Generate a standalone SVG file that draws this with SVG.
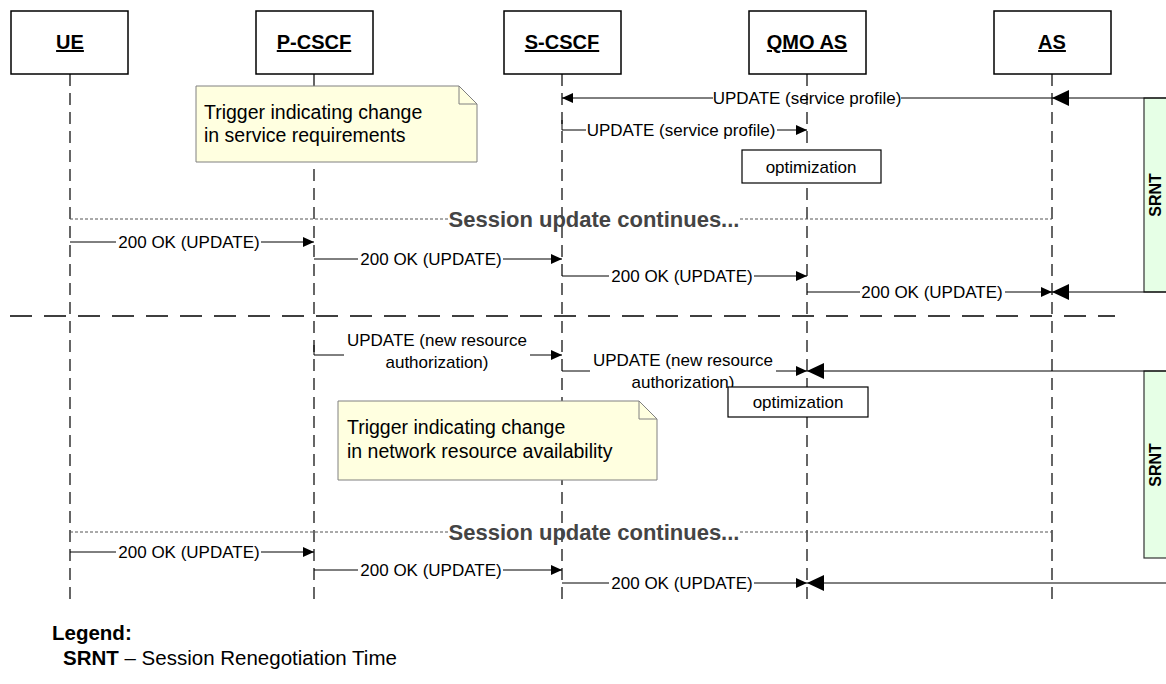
<svg xmlns="http://www.w3.org/2000/svg" width="1166" height="684" viewBox="0 0 1166 684">
<defs>
<style>
.hdr{fill:#fff;stroke:#000;stroke-width:1.5}
.htxt{font-family:"Liberation Sans",Arial,sans-serif;font-size:20px;font-weight:bold;text-anchor:middle;text-decoration:underline}
.life{stroke:#000;stroke-width:1.2;stroke-dasharray:12,7;fill:none}
.msg{stroke:#000;stroke-width:1;fill:none}
.lbl{font-family:"Liberation Sans",Arial,sans-serif;font-size:17px;text-anchor:middle;fill:#000}
.note{fill:#ffffe0;stroke:#808080;stroke-width:1}
.ntxt{font-family:"Liberation Sans",Arial,sans-serif;font-size:19.5px;fill:#000}
.opt{fill:#fff;stroke:#000;stroke-width:1.2}
.sess{font-family:"Liberation Sans",Arial,sans-serif;font-size:22px;font-weight:bold;fill:#444;text-anchor:middle}
.dot{stroke:#555;stroke-width:1;stroke-dasharray:3,2;fill:none}
.srnt{fill:#e6ffe6;stroke:#333;stroke-width:1.2}
.stxt{font-family:"Liberation Sans",Arial,sans-serif;font-size:16px;font-weight:bold;text-anchor:middle}
.leg{font-family:"Liberation Sans",Arial,sans-serif;font-size:20.5px}
</style>
<marker id="ah" markerWidth="12" markerHeight="10" refX="11" refY="5" orient="auto" markerUnits="userSpaceOnUse"><path d="M0,0 L11,5 L0,10 Z" fill="#000"/></marker>
<marker id="ahb" markerWidth="18" markerHeight="16" refX="17" refY="8" orient="auto" markerUnits="userSpaceOnUse"><path d="M0,0 L17,8 L0,16 Z" fill="#000"/></marker>
</defs>
<rect width="1166" height="684" fill="#fff"/>

<g id="lifelines">
<line class="life" x1="70" y1="74" x2="70" y2="600"/>
<line class="life" x1="314" y1="74" x2="314" y2="600"/>
<line class="life" x1="562" y1="74" x2="562" y2="600"/>
<line class="life" x1="807" y1="74" x2="807" y2="600"/>
<line class="life" x1="1052" y1="74" x2="1052" y2="600"/>
</g>

<g id="UE"><rect class="hdr" x="11" y="11" width="117" height="63"/><text class="htxt" x="70" y="49">UE</text></g>
<g id="P-CSCF"><rect class="hdr" x="256" y="11" width="117" height="63"/><text class="htxt" x="314" y="49">P-CSCF</text></g>
<g id="S-CSCF"><rect class="hdr" x="504" y="11" width="117" height="63"/><text class="htxt" x="562" y="49">S-CSCF</text></g>
<g id="QMO-AS"><rect class="hdr" x="749" y="11" width="117" height="63"/><text class="htxt" x="807" y="49">QMO AS</text></g>
<g id="AS"><rect class="hdr" x="994" y="11" width="117" height="63"/><text class="htxt" x="1052" y="49">AS</text></g>

<g id="srnt1"><rect class="srnt" x="1144" y="98" width="30" height="194"/><text class="stxt" transform="translate(1161,195) rotate(-90)">SRNT</text></g>
<g id="srnt2"><rect class="srnt" x="1144" y="371" width="30" height="187"/><text class="stxt" transform="translate(1161,465) rotate(-90)">SRNT</text></g>

<g id="connectors">
<line class="msg" x1="1166" y1="98" x2="1052" y2="98" marker-end="url(#ahb)"/>
<line class="msg" x1="1052" y1="98" x2="901" y2="98"/>
<line class="msg" x1="713" y1="98" x2="562" y2="98" marker-end="url(#ah)"/>
<text class="lbl" x="807" y="104">UPDATE (service profile)</text>
<line class="msg" x1="562" y1="120" x2="562" y2="130"/>
<line class="msg" x1="562" y1="130" x2="586" y2="130"/>
<line class="msg" x1="777" y1="130" x2="807" y2="130" marker-end="url(#ah)"/>
<text class="lbl" x="681" y="136">UPDATE (service profile)</text>

<line class="dot" x1="70" y1="219" x2="448" y2="219"/>
<line class="dot" x1="740" y1="219" x2="1052" y2="219"/>
<text class="sess" x="594" y="227">Session update continues...</text>

<line class="msg" x1="70" y1="242" x2="116" y2="242"/>
<line class="msg" x1="261" y1="242" x2="314" y2="242" marker-end="url(#ah)"/>
<text class="lbl" x="189" y="248">200 OK (UPDATE)</text>
<line class="msg" x1="314" y1="259" x2="358" y2="259"/>
<line class="msg" x1="503" y1="259" x2="562" y2="259" marker-end="url(#ah)"/>
<text class="lbl" x="431" y="265">200 OK (UPDATE)</text>
<line class="msg" x1="562" y1="276" x2="609" y2="276"/>
<line class="msg" x1="754" y1="276" x2="807" y2="276" marker-end="url(#ah)"/>
<text class="lbl" x="682" y="282">200 OK (UPDATE)</text>
<line class="msg" x1="807" y1="292" x2="860" y2="292"/>
<line class="msg" x1="1005" y1="292" x2="1052" y2="292" marker-end="url(#ah)"/>
<text class="lbl" x="932" y="298">200 OK (UPDATE)</text>
<line class="msg" x1="1166" y1="292" x2="1052" y2="292" marker-end="url(#ahb)"/>

<line x1="10" y1="316" x2="1115" y2="316" stroke="#000" stroke-width="1.5" stroke-dasharray="22,12"/>

<line class="msg" x1="314" y1="345" x2="314" y2="355"/>
<line class="msg" x1="314" y1="355" x2="344" y2="355"/>
<line class="msg" x1="530" y1="355" x2="562" y2="355" marker-end="url(#ah)"/>
<text class="lbl" x="437" y="346">UPDATE (new resource</text>
<text class="lbl" x="437" y="368">authorization)</text>
<line class="msg" x1="562" y1="371" x2="590" y2="371"/>
<line class="msg" x1="776" y1="371" x2="807" y2="371" marker-end="url(#ah)"/>
<text class="lbl" x="683" y="366">UPDATE (new resource</text>
<text class="lbl" x="683" y="388">authorization)</text>
<line class="msg" x1="1166" y1="371" x2="807" y2="371" marker-end="url(#ahb)"/>

<line class="dot" x1="70" y1="532" x2="449" y2="532"/>
<line class="dot" x1="740" y1="532" x2="1052" y2="532"/>
<text class="sess" x="594" y="540">Session update continues...</text>

<line class="msg" x1="70" y1="552" x2="116" y2="552"/>
<line class="msg" x1="261" y1="552" x2="314" y2="552" marker-end="url(#ah)"/>
<text class="lbl" x="189" y="558">200 OK (UPDATE)</text>
<line class="msg" x1="314" y1="570" x2="358" y2="570"/>
<line class="msg" x1="503" y1="570" x2="562" y2="570" marker-end="url(#ah)"/>
<text class="lbl" x="431" y="576">200 OK (UPDATE)</text>
<line class="msg" x1="562" y1="583" x2="609" y2="583"/>
<line class="msg" x1="754" y1="583" x2="807" y2="583" marker-end="url(#ah)"/>
<text class="lbl" x="682" y="589">200 OK (UPDATE)</text>
<line class="msg" x1="1166" y1="583" x2="807" y2="583" marker-end="url(#ahb)"/>
</g>

<g id="note1"><path class="note" d="M196,86 H459 L477,104 V162 H196 Z"/><path d="M459,86 V104 H477" fill="none" stroke="#808080"/><text class="ntxt" x="204" y="119">Trigger indicating change</text><text class="ntxt" x="204" y="142">in service requirements</text></g>
<g id="opt1"><rect class="opt" x="742" y="150" width="139" height="33"/><text class="lbl" x="811" y="173">optimization</text></g>
<g id="opt2"><rect class="opt" x="728" y="387" width="140" height="30"/><text class="lbl" x="798" y="408">optimization</text></g>
<g id="note2"><path class="note" d="M338,401 H639 L657,419 V480 H338 Z"/><path d="M639,401 V419 H657" fill="none" stroke="#808080"/><text class="ntxt" x="347" y="434">Trigger indicating change</text><text class="ntxt" x="347" y="458">in network resource availability</text></g>

<g id="legend">
<text class="leg" x="52" y="640" font-weight="bold">Legend:</text>
<text class="leg" x="63" y="665"><tspan font-weight="bold">SRNT</tspan> – Session Renegotiation Time</text>
</g>
</svg>
